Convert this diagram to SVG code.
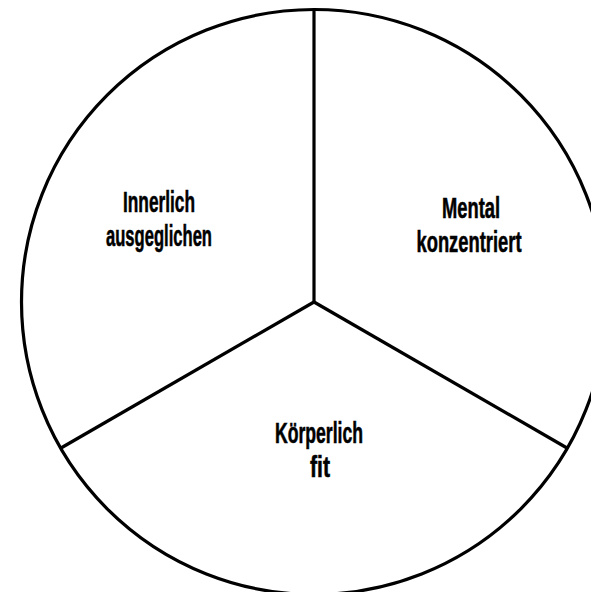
<svg xmlns="http://www.w3.org/2000/svg" width="591" height="592" viewBox="0 0 591 592">
<style>
.t{font-family:"Liberation Sans Narrow","Liberation Sans",Arial,sans-serif;font-weight:bold;font-size:30px;fill:#000;stroke:#000;stroke-width:0.6;text-anchor:middle}
.s{fill:none;stroke:#000;stroke-width:3.2}
</style>
<rect width="591" height="592" fill="#fff"/>
<g id="connectors">
<circle class="s" cx="314" cy="302" r="292.5"/>
<line class="s" x1="314" y1="302" x2="314" y2="10"/>
<line class="s" x1="314" y1="302" x2="61" y2="448"/>
<line class="s" x1="314" y1="302" x2="567" y2="448"/>
</g>
<g id="innerlich">
<text class="t" x="159" y="212" textLength="72" lengthAdjust="spacingAndGlyphs">Innerlich</text>
<text class="t" x="159" y="246" textLength="106" lengthAdjust="spacingAndGlyphs">ausgeglichen</text>
</g>
<g id="mental">
<text class="t" x="471" y="218" textLength="58" lengthAdjust="spacingAndGlyphs">Mental</text>
<text class="t" x="469" y="252" textLength="105" lengthAdjust="spacingAndGlyphs">konzentriert</text>
</g>
<g id="koerperlich">
<text class="t" x="319" y="443" textLength="88" lengthAdjust="spacingAndGlyphs">Körperlich</text>
<text class="t" x="320" y="477" textLength="20" lengthAdjust="spacingAndGlyphs">fit</text>
</g>
</svg>
